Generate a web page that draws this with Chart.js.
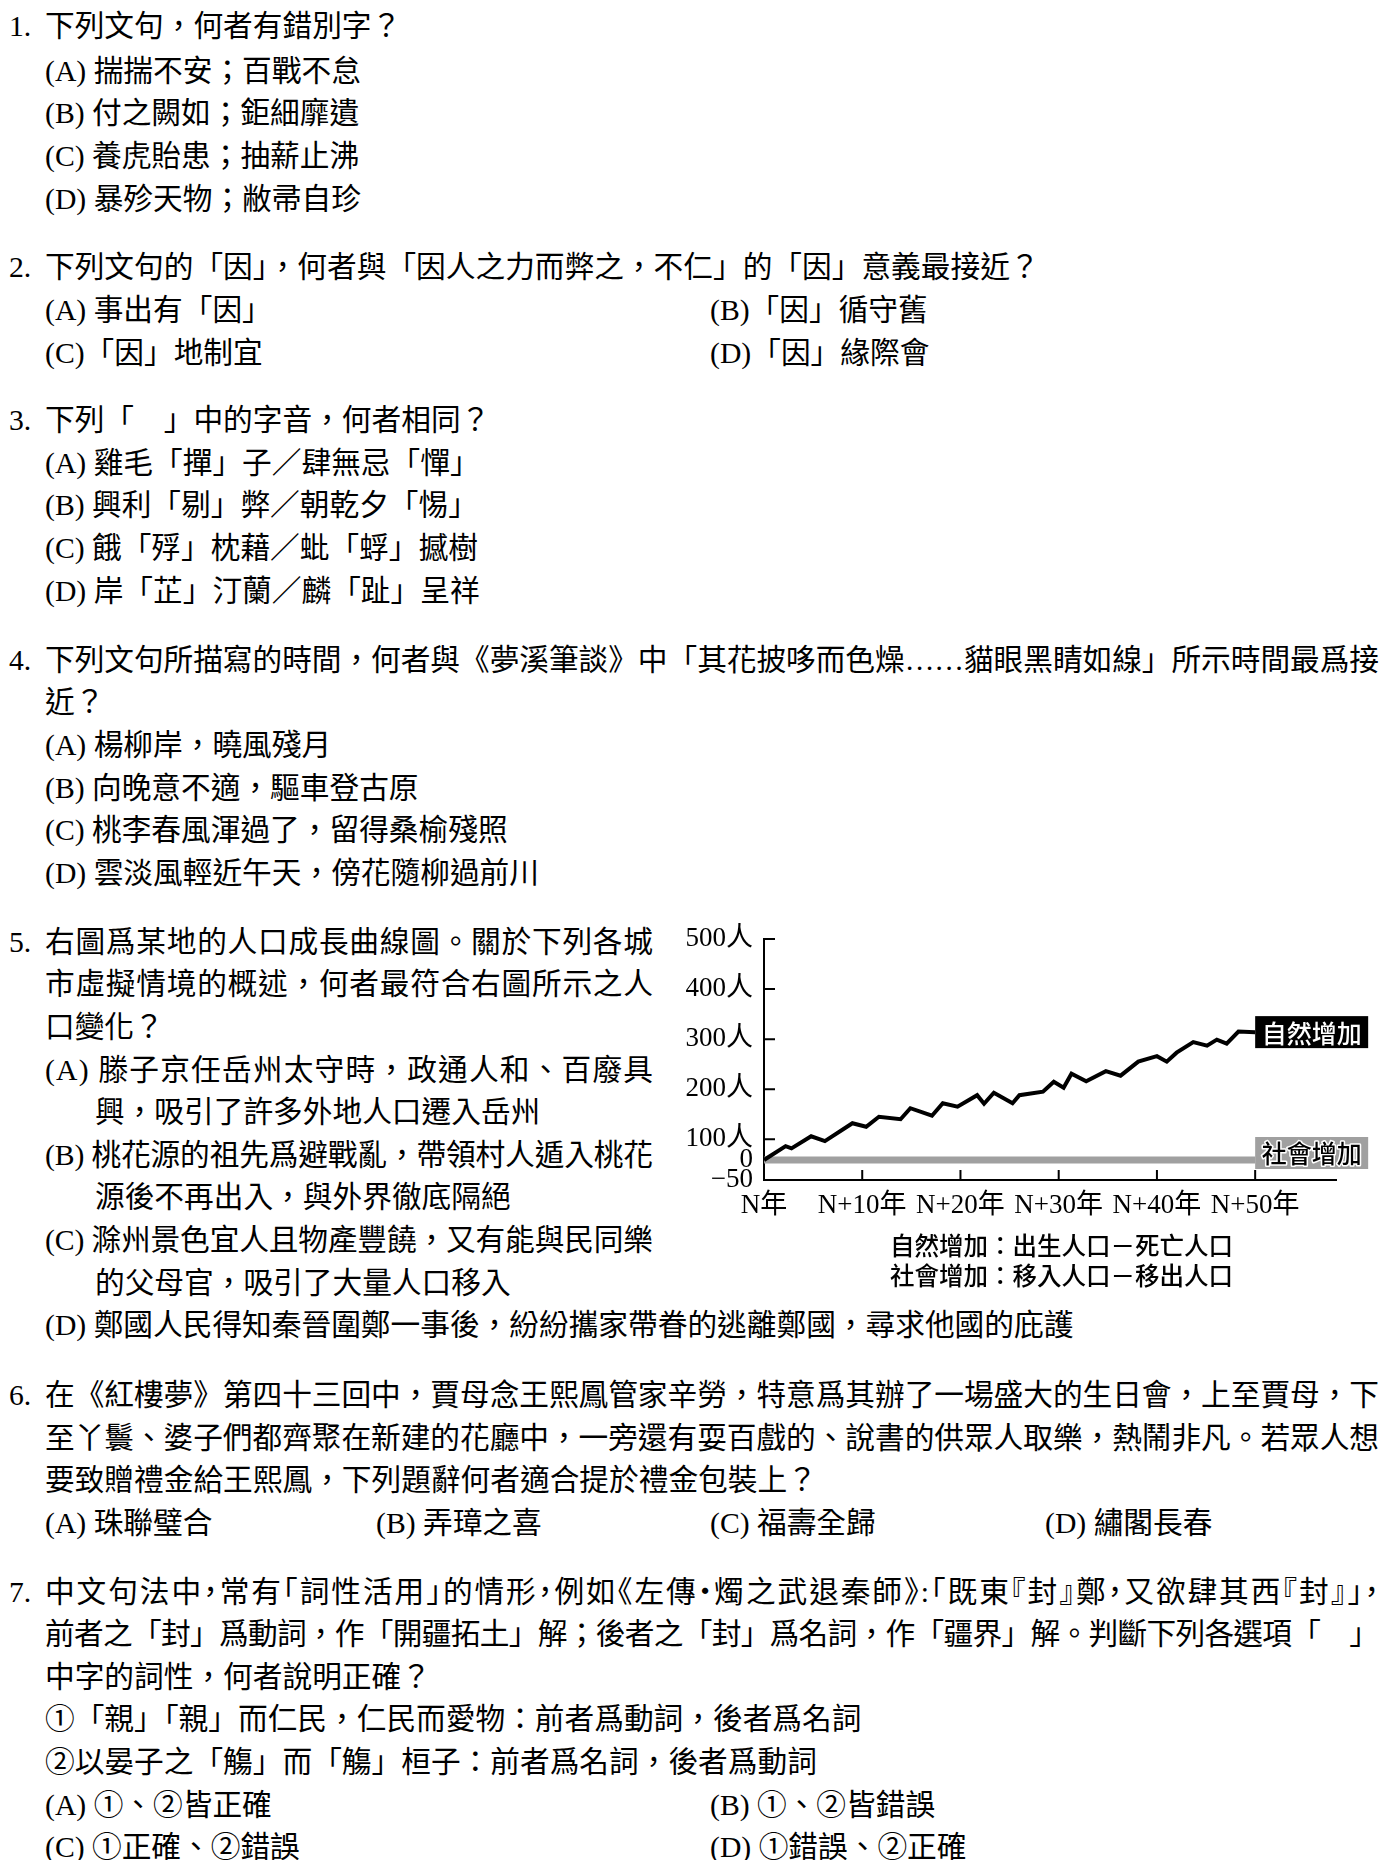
<!DOCTYPE html>
<html>
<head>
<meta charset="utf-8">
<script src="https://cdn.jsdelivr.net/npm/chart.js@4.4.1/dist/chart.umd.min.js"></script>
<style>
  html, body { margin: 0; padding: 0; background: #fff; }
  body {
    width: 1385px; height: 1860px; position: relative; overflow: hidden;
    font-family: "Liberation Serif", "Noto Sans CJK TC", serif;
    font-size: 29.7px; color: #000;
  }
  .l { position: absolute; white-space: nowrap; line-height: 40px; height: 40px; }
  .n { position: absolute; white-space: nowrap; line-height: 40px; left: 9px; }
  .halt { font-feature-settings: "halt"; }
  #chartBox { position: absolute; left: 680px; top: 900px; width: 705px; height: 395px; }
</style>
</head>
<body>

<div class="n" style="top:6px">1.</div>
<div class="l" style="left:45px;top:6px">下列文句，何者有錯別字？</div>
<div class="l" style="left:45px;top:50.5px">(A) 揣揣不安；百戰不怠</div>
<div class="l" style="left:45px;top:93px">(B) 付之闕如；鉅細靡遺</div>
<div class="l" style="left:45px;top:136px">(C) 養虎貽患；抽薪止沸</div>
<div class="l" style="left:45px;top:178.5px">(D) 暴殄天物；敝帚自珍</div>

<div class="n" style="top:247px">2.</div>
<div class="l" style="left:45px;top:247px">下列文句的「因」，何者與「因人之力而弊之，不仁」的「因」意義最接近？</div>
<div class="l" style="left:45px;top:290px">(A) 事出有「因」</div>
<div class="l" style="left:710px;top:290px">(B)「因」循守舊</div>
<div class="l" style="left:45px;top:332.5px">(C)「因」地制宜</div>
<div class="l" style="left:710px;top:332.5px">(D)「因」緣際會</div>

<div class="n" style="top:400px">3.</div>
<div class="l" style="left:45px;top:400px">下列「　」中的字音，何者相同？</div>
<div class="l" style="left:45px;top:442.5px">(A) 雞毛「撣」子／肆無忌「憚」</div>
<div class="l" style="left:45px;top:485px">(B) 興利「剔」弊／朝乾夕「惕」</div>
<div class="l" style="left:45px;top:528px">(C) 餓「殍」枕藉／蚍「蜉」撼樹</div>
<div class="l" style="left:45px;top:570.5px">(D) 岸「芷」汀蘭／麟「趾」呈祥</div>

<div class="n" style="top:639.5px">4.</div>
<div class="l fit" data-w="1334" style="left:45px;top:639.5px">下列文句所描寫的時間，何者與《夢溪筆談》中「其花披哆而色燥……貓眼黑睛如線」所示時間最爲接</div>
<div class="l" style="left:45px;top:682px">近？</div>
<div class="l" style="left:45px;top:724.5px">(A) 楊柳岸，曉風殘月</div>
<div class="l" style="left:45px;top:767.5px">(B) 向晚意不適，驅車登古原</div>
<div class="l" style="left:45px;top:810px">(C) 桃李春風渾過了，留得桑榆殘照</div>
<div class="l" style="left:45px;top:852.5px">(D) 雲淡風輕近午天，傍花隨柳過前川</div>

<div class="n" style="top:921.5px">5.</div>
<div class="l fit" data-w="608" style="left:45px;top:921.5px">右圖爲某地的人口成長曲線圖。關於下列各城</div>
<div class="l fit" data-w="608" style="left:45px;top:964px">市虛擬情境的概述，何者最符合右圖所示之人</div>
<div class="l" style="left:45px;top:1006.5px">口變化？</div>
<div class="l fit" data-w="608" style="left:45px;top:1049.5px">(A) 滕子京任岳州太守時，政通人和、百廢具</div>
<div class="l" style="left:95px;top:1092px">興，吸引了許多外地人口遷入岳州</div>
<div class="l fit" data-w="608" style="left:45px;top:1134.5px">(B) 桃花源的祖先爲避戰亂，帶領村人遁入桃花</div>
<div class="l" style="left:95px;top:1177px">源後不再出入，與外界徹底隔絕</div>
<div class="l fit" data-w="608" style="left:45px;top:1219.5px">(C) 滁州景色宜人且物產豐饒，又有能與民同樂</div>
<div class="l" style="left:95px;top:1262.5px">的父母官，吸引了大量人口移入</div>
<div class="l" style="left:45px;top:1305px">(D) 鄭國人民得知秦晉圍鄭一事後，紛紛攜家帶眷的逃離鄭國，尋求他國的庇護</div>

<div id="chartBox"><canvas id="popChart"></canvas></div>

<div class="n" style="top:1374.5px">6.</div>
<div class="l fit" data-w="1334" style="left:45px;top:1374.5px">在《紅樓夢》第四十三回中，賈母念王熙鳳管家辛勞，特意爲其辦了一場盛大的生日會，上至賈母，下</div>
<div class="l fit" data-w="1334" style="left:45px;top:1417.5px">至丫鬟、婆子們都齊聚在新建的花廳中，一旁還有耍百戲的、說書的供眾人取樂，熱鬧非凡。若眾人想</div>
<div class="l" style="left:45px;top:1460px">要致贈禮金給王熙鳳，下列題辭何者適合提於禮金包裝上？</div>
<div class="l" style="left:45px;top:1502.5px">(A) 珠聯璧合</div>
<div class="l" style="left:376px;top:1502.5px">(B) 弄璋之喜</div>
<div class="l" style="left:710px;top:1502.5px">(C) 福壽全歸</div>
<div class="l" style="left:1045px;top:1502.5px">(D) 繡閣長春</div>

<div class="n" style="top:1571.5px">7.</div>
<div class="l fit halt" data-w="1334" style="left:45px;top:1571.5px">中文句法中，常有「詞性活用」的情形，例如《左傳‧燭之武退秦師》:「既東『封』鄭，又欲肆其西『封』」，</div>
<div class="l fit" data-w="1334" style="left:45px;top:1614px">前者之「封」爲動詞，作「開疆拓土」解；後者之「封」爲名詞，作「疆界」解。判斷下列各選項「　」</div>
<div class="l" style="left:45px;top:1656.5px">中字的詞性，何者說明正確？</div>
<div class="l" style="left:45px;top:1699px">①「親」「親」而仁民，仁民而愛物：前者爲動詞，後者爲名詞</div>
<div class="l" style="left:45px;top:1741.5px">②以晏子之「觴」而「觴」桓子：前者爲名詞，後者爲動詞</div>
<div class="l" style="left:45px;top:1784.5px">(A) ①、②皆正確</div>
<div class="l" style="left:710px;top:1784.5px">(B) ①、②皆錯誤</div>
<div class="l" style="left:45px;top:1827px">(C) ①正確、②錯誤</div>
<div class="l" style="left:710px;top:1827px">(D) ①錯誤、②正確</div>

<script>
  // stretch full lines so they end at the column edge
  document.querySelectorAll('.fit').forEach(function (el) {
    var target = parseFloat(el.dataset.w);
    var n = Array.from(el.textContent).length;
    var w = el.getBoundingClientRect().width;
    el.style.letterSpacing = ((target - w) / (n - 1)) + 'px';
  });

  // data
  const years = [0, 2.2, 2.8, 4.8, 6.2, 9.0, 10.4, 11.7, 13.9, 14.9, 17.1, 18.2, 19.7, 21.7, 22.4, 23.4,
    25.3, 26.0, 28.4, 29.5, 30.5, 31.3, 32.8, 34.8, 36.3, 38.1, 40.0, 41.0, 42.0, 43.7, 45.1, 46.1, 47.1, 48.3, 50];
  const naturalIncrease = [0, 67, 56, 106, 91, 132, 125, 145, 140, 162, 147, 172, 165, 188, 171, 193,
    172, 188, 195, 215, 203, 231, 216, 236, 227, 255, 266, 255, 273, 294, 287, 299, 291, 315, 314];
  const socialYears = [0, 50];
  const socialIncrease = [0, 0];
  const seriesNames = ['自然增加', '社會增加'];
  const notes = ['自然增加：出生人口－死亡人口', '社會增加：移入人口－移出人口'];
  const xTicks = [0, 10, 20, 30, 40, 50];
  const yTicks = [-50, 0, 100, 200, 300, 400, 500];

  const serifFont = '"Liberation Serif", "Noto Sans CJK TC", serif';

  // y axis is squeezed below 100 (the part from -50 to 100 is short)
  const yStops = [-50, 0, 100, 500];
  const yDecs = [0, 0.083, 0.169, 1];
  function toDec(v) {
    let i = 1;
    while (i < yStops.length - 1 && v > yStops[i]) i++;
    const t = (v - yStops[i - 1]) / (yStops[i] - yStops[i - 1]);
    return yDecs[i - 1] + t * (yDecs[i] - yDecs[i - 1]);
  }
  function fromDec(d) {
    let i = 1;
    while (i < yDecs.length - 1 && d > yDecs[i]) i++;
    const t = (d - yDecs[i - 1]) / (yDecs[i] - yDecs[i - 1]);
    return yStops[i - 1] + t * (yStops[i] - yStops[i - 1]);
  }

  class SqueezedScale extends Chart.LinearScale {
    getPixelForValue(value) {
      if (value === null || isNaN(value)) return NaN;
      return this.getPixelForDecimal(toDec(value));
    }
    getValueForPixel(pixel) {
      return fromDec(this.getDecimalForPixel(pixel));
    }
  }
  SqueezedScale.id = 'squeezed';
  SqueezedScale.defaults = Chart.LinearScale.defaults;
  Chart.register(SqueezedScale);

  // tick marks point into the plot, not out of it
  const innerTicks = {
    id: 'innerTicks',
    afterDraw(chart) {
      const { ctx, chartArea, scales } = chart;
      ctx.save();
      ctx.strokeStyle = '#000';
      ctx.lineWidth = 2;
      ctx.beginPath();
      scales.y.ticks.forEach(t => {
        if (t.value < 100) return;
        const py = scales.y.getPixelForValue(t.value);
        ctx.moveTo(chartArea.left, py);
        ctx.lineTo(chartArea.left + 11, py);
      });
      scales.x.ticks.forEach(t => {
        if (t.value === 0) return;
        const px = scales.x.getPixelForValue(t.value);
        ctx.moveTo(px, chartArea.bottom);
        ctx.lineTo(px, chartArea.bottom - 10);
      });
      ctx.stroke();
      ctx.restore();
    }
  };

  // boxed series names at the end of each line
  const endLabels = {
    id: 'endLabels',
    afterDatasetsDraw(chart) {
      const ctx = chart.ctx;
      chart.data.datasets.forEach((ds, i) => {
        const pts = chart.getDatasetMeta(i).data;
        const p = pts[pts.length - 1];
        const w = 113, h = 32;
        const top = p.y - h / 2 + (i === 1 ? -7 : 0);
        ctx.save();
        ctx.fillStyle = i === 0 ? '#000' : '#a0a0a0';
        ctx.fillRect(p.x, top, w, h);
        ctx.font = '500 25px "Noto Sans CJK TC", sans-serif';
        ctx.textAlign = 'center';
        ctx.textBaseline = 'middle';
        if (i === 1) {
          ctx.strokeStyle = '#fff';
          ctx.lineWidth = 3;
          ctx.lineJoin = 'round';
          ctx.strokeText(ds.label, p.x + w / 2, top + h / 2 + 1);
          ctx.fillStyle = '#000';
        } else {
          ctx.fillStyle = '#fff';
        }
        ctx.fillText(ds.label, p.x + w / 2, top + h / 2 + 1);
        ctx.restore();
      });
    }
  };

  // the two definition lines under the x axis
  const notesBelow = {
    id: 'notesBelow',
    afterDraw(chart) {
      const { ctx, chartArea } = chart;
      ctx.save();
      ctx.font = '500 24.5px "Noto Sans CJK TC", sans-serif';
      ctx.fillStyle = '#000';
      ctx.textAlign = 'left';
      ctx.textBaseline = 'middle';
      notes.forEach((t, i) => {
        ctx.fillText(t, chartArea.left + 126, chartArea.bottom + 66 + i * 29.5);
      });
      ctx.restore();
    }
  };

  new Chart(document.getElementById('popChart'), {
    type: 'line',
    data: {
      datasets: [{
        label: seriesNames[0],
        data: years.map((x, i) => ({ x: x, y: naturalIncrease[i] })),
        borderColor: '#000',
        borderWidth: 4,
        borderJoinStyle: 'miter',
        pointRadius: 0,
        tension: 0,
        order: 1
      }, {
        label: seriesNames[1],
        data: socialYears.map((x, i) => ({ x: x, y: socialIncrease[i] })),
        borderColor: '#a0a0a0',
        borderWidth: 7,
        borderCapStyle: 'butt',
        pointRadius: 0,
        tension: 0,
        order: 2
      }]
    },
    options: {
      animation: false,
      responsive: true,
      maintainAspectRatio: false,
      layout: { padding: { top: 39, right: 48.3, left: 0, bottom: 75 } },
      plugins: {
        legend: { display: false },
        tooltip: { enabled: false },
        title: { display: false }
      },
      scales: {
        x: {
          type: 'linear',
          min: 0,
          max: 58.3,
          afterBuildTicks: axis => { axis.ticks = xTicks.map(v => ({ value: v })); },
          afterFit: axis => { axis.height = 40; },
          grid: { display: false, drawTicks: false },
          border: { display: true, color: '#000', width: 2 },
          ticks: {
            autoSkip: false,
            maxRotation: 0,
            padding: 10,
            color: '#000',
            font: { family: serifFont, size: 27 },
            callback: v => v === 0 ? 'N年' : 'N+' + v + '年'
          }
        },
        y: {
          type: 'squeezed',
          min: -50,
          max: 500,
          afterBuildTicks: axis => { axis.ticks = yTicks.map(v => ({ value: v })); },
          afterFit: axis => { axis.width = 84; },
          grid: { display: false, drawTicks: false },
          border: { display: true, color: '#000', width: 2 },
          ticks: {
            autoSkip: false,
            padding: 11,
            color: '#000',
            font: { family: serifFont, size: 27 },
            callback: v => v > 0 ? v + '人' : (v < 0 ? '\u2212' + Math.abs(v) : String(v))
          }
        }
      }
    },
    plugins: [innerTicks, endLabels, notesBelow]
  });
</script>
</body>
</html>
